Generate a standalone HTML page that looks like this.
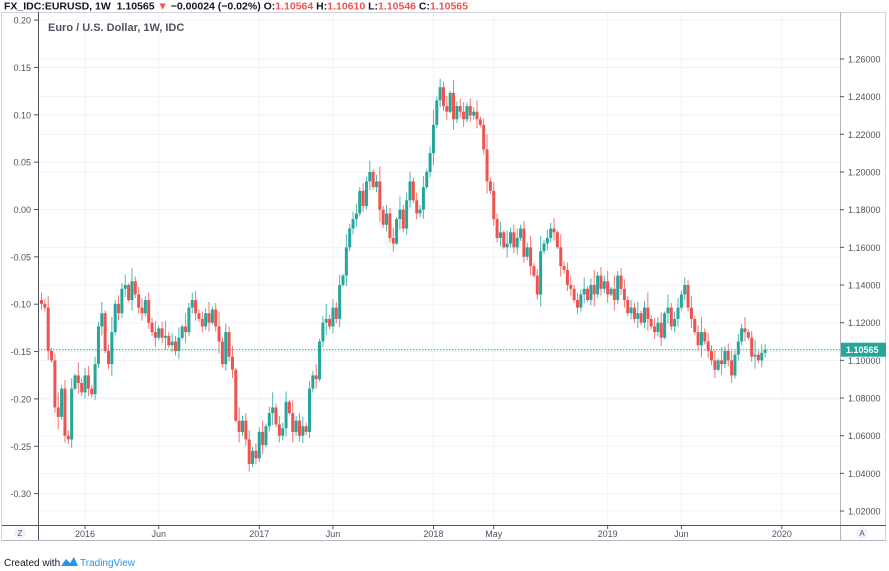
<!DOCTYPE html>
<html><head><meta charset="utf-8">
<style>
body{margin:0;background:#fff;font-family:"Liberation Sans",sans-serif;}
#wrap{position:relative;width:889px;height:571px;overflow:hidden;}
svg text{font-family:"Liberation Sans",sans-serif;}
</style></head><body>
<div id="wrap">
<svg id="chart" width="889" height="571"></svg>
</div>
<script>
const closes=[1.130,1.128,1.105,1.100,1.075,1.070,1.085,1.060,1.058,1.085,1.092,1.088,1.083,1.092,1.085,1.082,1.098,1.118,1.125,1.105,1.098,1.115,1.130,1.125,1.138,1.140,1.132,1.142,1.135,1.128,1.125,1.132,1.120,1.115,1.112,1.117,1.112,1.113,1.108,1.110,1.105,1.112,1.118,1.115,1.128,1.132,1.125,1.122,1.118,1.125,1.120,1.127,1.118,1.110,1.098,1.115,1.102,1.095,1.068,1.062,1.068,1.058,1.045,1.052,1.048,1.062,1.055,1.065,1.072,1.075,1.066,1.060,1.064,1.078,1.072,1.062,1.068,1.060,1.065,1.062,1.085,1.092,1.090,1.110,1.120,1.122,1.118,1.128,1.122,1.140,1.145,1.160,1.170,1.175,1.178,1.190,1.182,1.195,1.200,1.192,1.195,1.180,1.172,1.178,1.165,1.162,1.175,1.180,1.170,1.185,1.195,1.185,1.178,1.180,1.192,1.200,1.210,1.225,1.238,1.245,1.235,1.232,1.242,1.228,1.235,1.232,1.228,1.235,1.230,1.232,1.228,1.225,1.212,1.195,1.190,1.175,1.165,1.168,1.160,1.162,1.168,1.160,1.165,1.170,1.155,1.160,1.150,1.145,1.135,1.158,1.162,1.165,1.170,1.168,1.160,1.150,1.148,1.140,1.138,1.132,1.128,1.135,1.138,1.132,1.140,1.135,1.145,1.138,1.142,1.135,1.138,1.132,1.145,1.138,1.132,1.125,1.128,1.122,1.125,1.120,1.128,1.122,1.118,1.115,1.120,1.112,1.125,1.128,1.118,1.122,1.128,1.135,1.140,1.128,1.122,1.115,1.108,1.115,1.110,1.105,1.100,1.095,1.100,1.098,1.105,1.100,1.092,1.103,1.110,1.117,1.115,1.112,1.102,1.103,1.100,1.104,1.10565];
const firstOpen=1.132;
const wickPips=[40,25,60,15,35,80,20,45,30,55,10,70,25,40,50,20];
const priceTicks=[1.26,1.24,1.22,1.20,1.18,1.16,1.14,1.12,1.10,1.08,1.06,1.04,1.02];
const pctTicks=[0.20,0.15,0.10,0.05,0.00,-0.05,-0.10,-0.15,-0.20,-0.25,-0.30];
const timeLabels=["2016","Jun","2017","Jun","2018","May","2019","Jun","2020"];
const timeWeeks=[13,35,65,87,117,135,169,191,221];
const lastPrice=1.10565;

const NS="http://www.w3.org/2000/svg";
const svg=document.getElementById('chart');
const L=38,R=840,T=12,B=525;
const yP=p=>59+(1.26-p)*1883.5;
const yPct=v=>209.5-v*947;
const xW=i=>41.5+i*3.35;
function mk(tag,attrs,parent){const e=document.createElementNS(NS,tag);for(const k in attrs)e.setAttribute(k,attrs[k]);(parent||svg).appendChild(e);return e;}

// grid
const grid=mk('g',{});


priceTicks.forEach(p=>mk('line',{x1:L,x2:R,y1:yP(p),y2:yP(p),stroke:'#f0f3fa'},grid));
pctTicks.forEach(v=>mk('line',{x1:L,x2:R,y1:yPct(v),y2:yPct(v),stroke:'#f0f3fa'},grid));
timeWeeks.forEach(w=>mk('line',{x1:xW(w),x2:xW(w),y1:T,y2:B,stroke:'#f0f3fa'},grid));

// frame
mk('rect',{x:1.5,y:T+0.5,width:884,height:528,fill:'none',stroke:'#d1d4dc'});
mk('line',{x1:L+0.5,x2:L+0.5,y1:T,y2:541,stroke:'#50535e'});
mk('line',{x1:R+0.5,x2:R+0.5,y1:T,y2:541,stroke:'#b2b5be'});
mk('line',{x1:2,x2:886,y1:B+0.5,y2:B+0.5,stroke:'#50535e'});
mk('line',{x1:2,x2:886,y1:540.5,y2:540.5,stroke:'#b2b5be'});

// header
let t=mk('text',{x:4,y:9.5,'font-size':10.5,'font-weight':'bold',fill:'#131722'});


t.innerHTML='FX_IDC:EURUSD, 1W&#160;&#160;1.10565 <tspan fill="#ef5350">▼</tspan> −0.00024 (−0.02%) O:<tspan fill="#ef5350">1.10564</tspan> H:<tspan fill="#ef5350">1.10610</tspan> L:<tspan fill="#ef5350">1.10546</tspan> C:<tspan fill="#ef5350">1.10565</tspan>';

// title
t=mk('text',{x:48,y:31,'font-size':11,'font-weight':'bold',fill:'#50535e'});


t.textContent='Euro / U.S. Dollar, 1W, IDC';

// axes
const la=mk('g',{});


pctTicks.forEach(v=>{mk('line',{x1:L-4,x2:L,y1:yPct(v),y2:yPct(v),stroke:'#50535e'},la);
 const tx=mk('text',{x:L-7,y:yPct(v)+3.5,'font-size':9,fill:'#50535e','text-anchor':'end'},la);tx.textContent=v.toFixed(2);});
const ra=mk('g',{});


priceTicks.forEach(p=>{mk('line',{x1:R,x2:R+4,y1:yP(p),y2:yP(p),stroke:'#50535e'},ra);
 const tx=mk('text',{x:R+8,y:yP(p)+3.5,'font-size':9,fill:'#50535e'},ra);tx.textContent=p.toFixed(5);});
const ta=mk('g',{});


timeLabels.forEach((s,i)=>{const x=xW(timeWeeks[i]);mk('line',{x1:x,x2:x,y1:B,y2:B+4,stroke:'#50535e'},ta);
 const tx=mk('text',{x:x,y:537,'font-size':9,fill:'#50535e','text-anchor':'middle'},ta);tx.textContent=s;});

// candles
const cg=mk('g',{});


closes.forEach((c,i)=>{
 const o=i?closes[i-1]:firstOpen;
 const w=wickPips[i%wickPips.length]/10000;
 const h=Math.max(o,c)+w,l=Math.min(o,c)-w*0.8;
 const col=c>=o?'#26a69a':'#ef5350';
 const x=xW(i);
 const g=mk('g',{},cg);
 
 
 mk('line',{x1:x,x2:x,y1:yP(h),y2:yP(l),stroke:col,'stroke-width':1,opacity:0.8},g);
 const yt=yP(Math.max(o,c)),yb=yP(Math.min(o,c));
 mk('rect',{x:x-1.5,y:yt,width:3,height:Math.max(1,yb-yt),fill:col},g);
});

// last price line
const ly=yP(lastPrice);
const lp=mk('line',{x1:L,x2:R,y1:ly,y2:ly,stroke:'#26a69a','stroke-dasharray':'1.5 1.5'});


const lb=mk('rect',{x:R+1,y:ly-7,width:45,height:14,fill:'#26a69a'});


t=mk('text',{x:R+6,y:ly+3.5,'font-size':9,fill:'#fff','font-weight':'bold'});
t.textContent=lastPrice.toFixed(5);

// corner buttons
let b=mk('circle',{cx:20,cy:533,r:6,fill:'#f0f3fa'});


t=mk('text',{x:20,y:536,'font-size':8,fill:'#50535e','text-anchor':'middle'});t.textContent='Z';
b=mk('circle',{cx:862,cy:533,r:6,fill:'#f0f3fa'});


t=mk('text',{x:862,y:536,'font-size':8,fill:'#50535e','text-anchor':'middle'});t.textContent='A';

// footer
t=mk('text',{x:4,y:566,'font-size':10,fill:'#131722'});


t.textContent='Created with';
const logo=mk('path',{d:'M61 566 L66 559 L70 563 L74 557 L78 566 Z',fill:'#2196f3'});


t=mk('text',{x:80,y:566,'font-size':10,fill:'#2196f3'});


t.textContent='TradingView';
</script>
</body></html>
